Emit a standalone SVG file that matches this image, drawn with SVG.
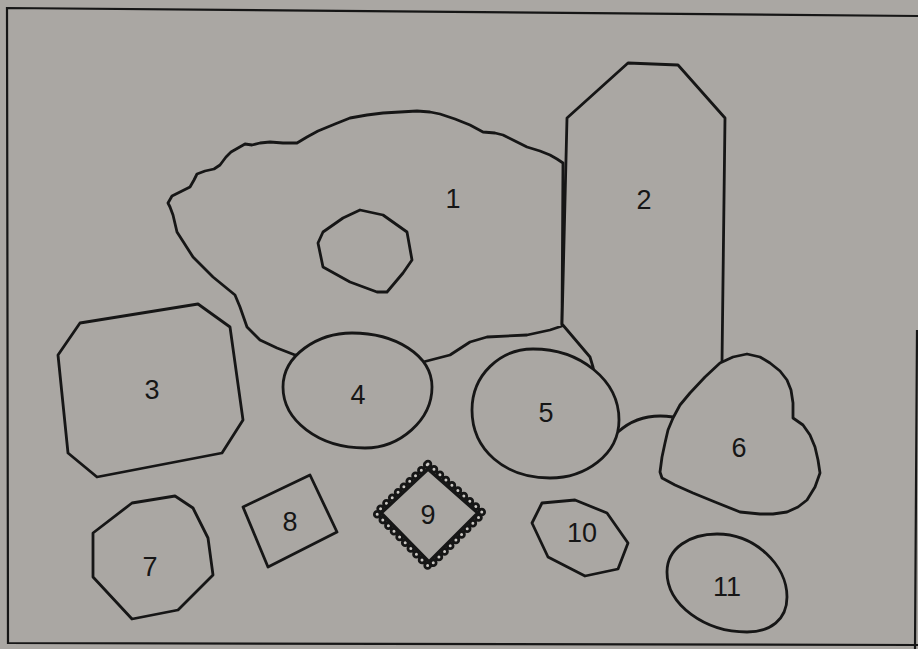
<svg xmlns="http://www.w3.org/2000/svg" width="918" height="649" viewBox="0 0 918 649">
<style>
.s{fill:#aaa7a3;stroke:#161616;stroke-width:2.8;stroke-linejoin:round;stroke-linecap:round}
.b{fill:none;stroke:#161616;stroke-width:2.2}
.t{font-family:"Liberation Sans",Arial,sans-serif;font-size:27px;fill:#161616;text-anchor:middle;dominant-baseline:central}
</style>
<rect width="918" height="649" fill="#aaa7a3"/>
<g id="frame">
<path class="b" d="M918,16 L7,8 L8,643 L918,645 M917,330 L915,649"/>
</g>
<g id="node1">
<path class="s" d="M168,203 L172,196 L182,191 L190,187 L194,180 L197,174 L205,171 L214,169 L220,165 L226,157 L231,152 L238,148 L245,144 L252,145 L260,143 L270,142 L283,143 L297,143 L307,137 L318,131 L335,124 L350,118 L367,115 L383,113 L400,112 L417,111 L430,112 L440,114 L455,119 L470,125 L483,132 L495,133 L503,135 L515,141 L527,147 L540,151 L550,155 L557,159 L563,163 L562,326 L550,330 L527,335 L487,337 L470,342 L450,355 L423,362 L360,366 L295,355 L277,348 L260,340 L247,327 L240,307 L235,295 L213,277 L193,257 L177,232 L173,215 L170,207 Z"/>
<path class="s" d="M360,210 L383,215 L407,232 L412,260 L403,273 L387,292 L377,292 L350,282 L323,267 L318,243 L323,232 L343,218 Z"/>
<text class="t" x="453" y="199">1</text>
</g>
<g id="node2">
<path class="s" d="M567,118 L628,63 L678,65 L725,118 L722,363 L705,418 L673,417 Q640,412 618,432 L600,400 L593,367 L590,357 L562,324 Z"/>
<text class="t" x="644" y="200">2</text>
</g>
<g id="node3">
<path class="s" d="M80,323 L198,304 L230,327 L243,420 L222,453 L97,477 L68,453 L58,355 Z"/>
<text class="t" x="152" y="390">3</text>
</g>
<g id="node4">
<path class="s" d="M283,387 C283,355 318,333 352,333 C395,333 432,355 432,387 C432,420 400,448 365,448 C318,448 283,420 283,387 Z"/>
<text class="t" x="358" y="395">4</text>
</g>
<g id="node5">
<path class="s" d="M472,410 C472,375 500,349 533,349 C580,349 619,380 619,420 C619,455 585,478 550,478 C505,478 472,450 472,410 Z"/>
<text class="t" x="546" y="413">5</text>
</g>
<g id="node6">
<path class="s" d="M720,363 L733,357 L747,354 L760,357 L770,363 L780,371 L787,380 L791,390 L793,403 L793,418 L803,425 L810,435 L815,447 L818,460 L820,473 L815,487 L807,500 L798,507 L787,512 L773,514 L760,514 L740,512 L715,502 L693,493 L675,485 L662,478 L660,472 L662,457 L665,443 L668,430 L673,418 L680,405 L690,393 L705,377 Z"/>
<text class="t" x="739" y="448">6</text>
</g>
<g id="node7">
<path class="s" d="M132,503 L175,496 L193,508 L208,538 L213,575 L178,610 L132,619 L93,577 L93,533 Z"/>
<text class="t" x="150" y="567">7</text>
</g>
<g id="node8">
<path class="s" d="M243,507 L310,475 L337,532 L268,567 Z"/>
<text class="t" x="290" y="522">8</text>
</g>
<g id="node9">
<path d="M428,464 L483,513 L429,567 L376,513 Z" fill="none" stroke="#161616" stroke-width="8.5" stroke-dasharray="0 8" stroke-linecap="round"/>
<path d="M428,464 L483,513 L429,567 L376,513 Z" fill="none" stroke="#c9c6c2" stroke-width="3" stroke-dasharray="0 8" stroke-linecap="round"/>
<path d="M428,469 L478,513 L429,562 L381,513 Z" fill="none" stroke="#161616" stroke-width="3.6" stroke-linejoin="round"/>
<text class="t" x="428" y="515">9</text>
</g>
<g id="node10">
<path class="s" d="M532,523 L542,503 L575,500 L607,513 L628,543 L618,569 L585,576 L548,557 Z"/>
<text class="t" x="582" y="533">10</text>
</g>
<g id="node11">
<path class="s" d="M667,572 C667,548 690,534 717,534 C755,534 787,565 787,597 C787,620 770,632 747,632 C705,632 667,605 667,572 Z"/>
<text class="t" x="727" y="587">11</text>
</g>
<g id="connectors"></g>
</svg>
